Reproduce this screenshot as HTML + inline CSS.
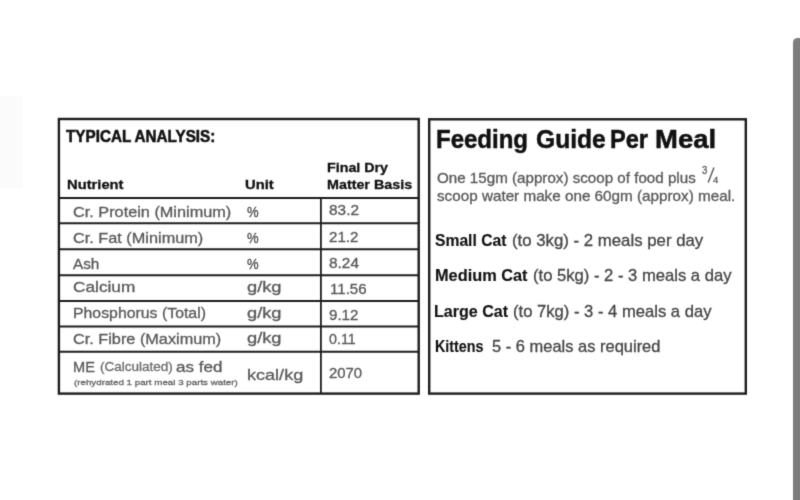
<!DOCTYPE html>
<html><head><meta charset="utf-8"><title>Feeding Guide</title>
<style>
html,body{margin:0;padding:0;background:#fff;}
body{width:800px;height:500px;position:relative;overflow:hidden;font-family:"Liberation Sans",sans-serif;}
.t{position:absolute;white-space:nowrap;transform-origin:0 0;display:block;}
.r{position:absolute;background:#1c1c1c;}
.box{position:absolute;border:2px solid #1c1c1c;box-sizing:content-box;}
#wrap{position:absolute;left:0;top:0;width:800px;height:500px;filter:url(#soft);}
</style></head><body><svg width="0" height="0" style="position:absolute"><defs><filter id="soft" x="0" y="0" width="100%" height="100%" color-interpolation-filters="sRGB"><feConvolveMatrix order="3" kernelMatrix="0.0169 0.0962 0.0169 0.0962 0.5476 0.0962 0.0169 0.0962 0.0169" divisor="1" edgeMode="duplicate" preserveAlpha="false"/></filter></defs></svg><div id="wrap">
<svg style="position:absolute;left:0;top:0" width="800" height="500" viewBox="0 0 800 500"><rect x="58.9" y="119" width="359.8" height="274.6" fill="none" stroke="#1c1c1c" stroke-width="2.4"/><rect x="429.2" y="119.3" width="316.6" height="274.3" fill="none" stroke="#1c1c1c" stroke-width="2.4"/><line x1="59" y1="198" x2="418.7" y2="198" stroke="#1c1c1c" stroke-width="2"/><line x1="59" y1="223.3" x2="418.7" y2="223.3" stroke="#1c1c1c" stroke-width="2"/><line x1="59" y1="249.2" x2="418.7" y2="249.2" stroke="#1c1c1c" stroke-width="2"/><line x1="59" y1="275.2" x2="418.7" y2="275.2" stroke="#1c1c1c" stroke-width="2"/><line x1="59" y1="300.9" x2="418.7" y2="300.9" stroke="#1c1c1c" stroke-width="2"/><line x1="59" y1="326.5" x2="418.7" y2="326.5" stroke="#1c1c1c" stroke-width="2"/><line x1="59" y1="351.7" x2="418.7" y2="351.7" stroke="#1c1c1c" stroke-width="2"/><line x1="320.9" y1="198" x2="320.9" y2="393.6" stroke="#1c1c1c" stroke-width="1.8"/></svg>
<div style="position:absolute;left:0;top:96px;width:23px;height:92px;background:#fbfbfb"></div>
<svg style="position:absolute;left:700px;top:165px" width="22" height="22"><line x1="8.2" y1="17.6" x2="14" y2="2.4" stroke="#585858" stroke-width="1.4"/></svg>
<div style="position:absolute;left:793.4px;top:38.2px;width:14px;height:480px;background:#7d7d7d;border-top-left-radius:4.5px"></div>
<span class="t" style="left:66.20px;top:127.97px;font-size:17.4px;line-height:17.4px;font-weight:700;color:#111111;-webkit-text-stroke:0.55px #111111;transform:scaleX(0.8765)">TYPICAL ANALYSIS:</span>
<span class="t" style="left:67.20px;top:177.94px;font-size:13.6px;line-height:13.6px;font-weight:700;color:#111111;-webkit-text-stroke:0.30px #111111;transform:scaleX(1.0841)">Nutrient</span>
<span class="t" style="left:244.70px;top:178.09px;font-size:13.6px;line-height:13.6px;font-weight:700;color:#111111;-webkit-text-stroke:0.30px #111111;transform:scaleX(1.0875)">Unit</span>
<span class="t" style="left:326.70px;top:160.94px;font-size:13.6px;line-height:13.6px;font-weight:700;color:#111111;-webkit-text-stroke:0.30px #111111;transform:scaleX(1.0494)">Final Dry</span>
<span class="t" style="left:326.70px;top:177.94px;font-size:13.6px;line-height:13.6px;font-weight:700;color:#111111;-webkit-text-stroke:0.30px #111111;transform:scaleX(1.0526)">Matter Basis</span>
<span class="t" style="left:72.95px;top:204.20px;font-size:15px;line-height:15px;font-weight:400;color:#585858;-webkit-text-stroke:0.3px #585858;transform:scaleX(1.0849)">Cr. Protein (Minimum)</span>
<span class="t" style="left:72.95px;top:230.20px;font-size:15px;line-height:15px;font-weight:400;color:#585858;-webkit-text-stroke:0.3px #585858;transform:scaleX(1.0854)">Cr. Fat (Minimum)</span>
<span class="t" style="left:72.95px;top:255.80px;font-size:15px;line-height:15px;font-weight:400;color:#585858;-webkit-text-stroke:0.3px #585858;transform:scaleX(1.0194)">Ash</span>
<span class="t" style="left:72.95px;top:278.80px;font-size:15px;line-height:15px;font-weight:400;color:#585858;-webkit-text-stroke:0.3px #585858;transform:scaleX(1.1503)">Calcium</span>
<span class="t" style="left:73.24px;top:304.60px;font-size:15px;line-height:15px;font-weight:400;color:#585858;-webkit-text-stroke:0.3px #585858;transform:scaleX(1.0560)">Phosphorus (Total)</span>
<span class="t" style="left:72.95px;top:330.80px;font-size:15px;line-height:15px;font-weight:400;color:#585858;-webkit-text-stroke:0.3px #585858;transform:scaleX(1.0847)">Cr. Fibre (Maximum)</span>
<span class="t" style="left:73.33px;top:358.50px;font-size:15px;line-height:15px;font-weight:400;color:#585858;-webkit-text-stroke:0.3px #585858;transform:scaleX(0.9723)">ME</span>
<span class="t" style="left:99.95px;top:360.79px;font-size:12.3px;line-height:12.3px;font-weight:400;color:#6c6c6c;-webkit-text-stroke:0.3px #6c6c6c;transform:scaleX(1.0990)">(Calculated)</span>
<span class="t" style="left:176.20px;top:358.50px;font-size:15px;line-height:15px;font-weight:400;color:#585858;-webkit-text-stroke:0.3px #585858;transform:scaleX(1.1353)">as fed</span>
<span class="t" style="left:73.50px;top:378.83px;font-size:8px;line-height:8px;font-weight:400;color:#666666;-webkit-text-stroke:0.3px #666666;transform:scaleX(1.2198)">(rehydrated 1 part meal 3 parts water)</span>
<span class="t" style="left:246.80px;top:205.13px;font-size:14.5px;line-height:14.5px;font-weight:400;color:#4c4c4c;-webkit-text-stroke:0.3px #4c4c4c;transform:scaleX(0.9000)">%</span>
<span class="t" style="left:246.80px;top:230.83px;font-size:14.5px;line-height:14.5px;font-weight:400;color:#4c4c4c;-webkit-text-stroke:0.3px #4c4c4c;transform:scaleX(0.9000)">%</span>
<span class="t" style="left:246.80px;top:256.53px;font-size:14.5px;line-height:14.5px;font-weight:400;color:#4c4c4c;-webkit-text-stroke:0.3px #4c4c4c;transform:scaleX(0.9000)">%</span>
<span class="t" style="left:247.20px;top:280.15px;font-size:14px;line-height:14px;font-weight:400;color:#585858;-webkit-text-stroke:0.3px #585858;transform:scaleX(1.3047)">g/kg</span>
<span class="t" style="left:247.20px;top:305.65px;font-size:14px;line-height:14px;font-weight:400;color:#585858;-webkit-text-stroke:0.3px #585858;transform:scaleX(1.3047)">g/kg</span>
<span class="t" style="left:247.20px;top:331.35px;font-size:14px;line-height:14px;font-weight:400;color:#585858;-webkit-text-stroke:0.3px #585858;transform:scaleX(1.3047)">g/kg</span>
<span class="t" style="left:246.50px;top:367.20px;font-size:15px;line-height:15px;font-weight:400;color:#585858;-webkit-text-stroke:0.3px #585858;transform:scaleX(1.2042)">kcal/kg</span>
<span class="t" style="left:328.80px;top:202.83px;font-size:14.5px;line-height:14.5px;font-weight:400;color:#585858;-webkit-text-stroke:0.3px #585858;transform:scaleX(1.0619)">83.2</span>
<span class="t" style="left:329.40px;top:230.03px;font-size:14.5px;line-height:14.5px;font-weight:400;color:#585858;-webkit-text-stroke:0.3px #585858;transform:scaleX(1.0406)">21.2</span>
<span class="t" style="left:328.80px;top:255.93px;font-size:14.5px;line-height:14.5px;font-weight:400;color:#585858;-webkit-text-stroke:0.3px #585858;transform:scaleX(1.0619)">8.24</span>
<span class="t" style="left:329.86px;top:282.03px;font-size:14.5px;line-height:14.5px;font-weight:400;color:#585858;-webkit-text-stroke:0.3px #585858;transform:scaleX(1.0397)">11.56</span>
<span class="t" style="left:329.40px;top:307.73px;font-size:14.5px;line-height:14.5px;font-weight:400;color:#585858;-webkit-text-stroke:0.3px #585858;transform:scaleX(1.0406)">9.12</span>
<span class="t" style="left:329.40px;top:332.23px;font-size:14.5px;line-height:14.5px;font-weight:400;color:#585858;-webkit-text-stroke:0.3px #585858;transform:scaleX(0.9822)">0.11</span>
<span class="t" style="left:329.40px;top:365.73px;font-size:14.5px;line-height:14.5px;font-weight:400;color:#585858;-webkit-text-stroke:0.3px #585858;transform:scaleX(1.0282)">2070</span>
<span class="t" style="left:435.98px;top:126.29px;font-size:26px;line-height:26px;font-weight:700;color:#111111;-webkit-text-stroke:0.50px #111111;transform:scaleX(0.9234)">Feeding</span>
<span class="t" style="left:535.85px;top:126.29px;font-size:26px;line-height:26px;font-weight:700;color:#111111;-webkit-text-stroke:0.50px #111111;transform:scaleX(0.9472)">Guide</span>
<span class="t" style="left:609.89px;top:126.29px;font-size:26px;line-height:26px;font-weight:700;color:#111111;-webkit-text-stroke:0.50px #111111;transform:scaleX(0.9068)">Per</span>
<span class="t" style="left:655.44px;top:126.29px;font-size:26px;line-height:26px;font-weight:700;color:#111111;-webkit-text-stroke:0.50px #111111;transform:scaleX(1.0562)">Meal</span>
<span class="t" style="left:436.50px;top:171.43px;font-size:14.5px;line-height:14.5px;font-weight:400;color:#585858;-webkit-text-stroke:0.3px #585858;transform:scaleX(1.0457)">One 15gm (approx) scoop of food plus</span>
<span class="t" style="left:436.50px;top:189.33px;font-size:14.5px;line-height:14.5px;font-weight:400;color:#585858;-webkit-text-stroke:0.3px #585858;transform:scaleX(1.0514)">scoop water make one 60gm (approx) meal.</span>
<span class="t" style="left:702.20px;top:165.19px;font-size:11px;line-height:11px;font-weight:400;color:#585858;-webkit-text-stroke:0.3px #585858;transform:scaleX(0.8667)">3</span>
<span class="t" style="left:713.10px;top:174.56px;font-size:9.5px;line-height:9.5px;font-weight:400;color:#585858;-webkit-text-stroke:0.3px #585858;transform:scaleX(1.0000)">4</span>
<span class="t" style="left:434.70px;top:231.51px;font-size:17px;line-height:17px;font-weight:700;color:#111111;-webkit-text-stroke:0.15px #111111;transform:scaleX(0.9221)">Small Cat</span>
<span class="t" style="left:511.51px;top:231.51px;font-size:17px;line-height:17px;font-weight:400;color:#444444;-webkit-text-stroke:0.3px #444444;transform:scaleX(0.9871)">(to 3kg) - 2 meals per day</span>
<span class="t" style="left:434.64px;top:267.31px;font-size:17px;line-height:17px;font-weight:700;color:#111111;-webkit-text-stroke:0.15px #111111;transform:scaleX(0.9605)">Medium Cat</span>
<span class="t" style="left:533.22px;top:267.31px;font-size:17px;line-height:17px;font-weight:400;color:#444444;-webkit-text-stroke:0.3px #444444;transform:scaleX(0.9771)">(to 5kg) - 2 - 3 meals a day</span>
<span class="t" style="left:433.75px;top:303.01px;font-size:17px;line-height:17px;font-weight:700;color:#111111;-webkit-text-stroke:0.15px #111111;transform:scaleX(0.9454)">Large Cat</span>
<span class="t" style="left:513.22px;top:303.01px;font-size:17px;line-height:17px;font-weight:400;color:#444444;-webkit-text-stroke:0.3px #444444;transform:scaleX(0.9771)">(to 7kg) - 3 - 4 meals a day</span>
<span class="t" style="left:434.61px;top:337.81px;font-size:17px;line-height:17px;font-weight:700;color:#111111;-webkit-text-stroke:0.15px #111111;transform:scaleX(0.8413)">Kittens</span>
<span class="t" style="left:492.20px;top:337.81px;font-size:17px;line-height:17px;font-weight:400;color:#444444;-webkit-text-stroke:0.3px #444444;transform:scaleX(0.9688)">5 - 6 meals as required</span>
</div></body></html>
